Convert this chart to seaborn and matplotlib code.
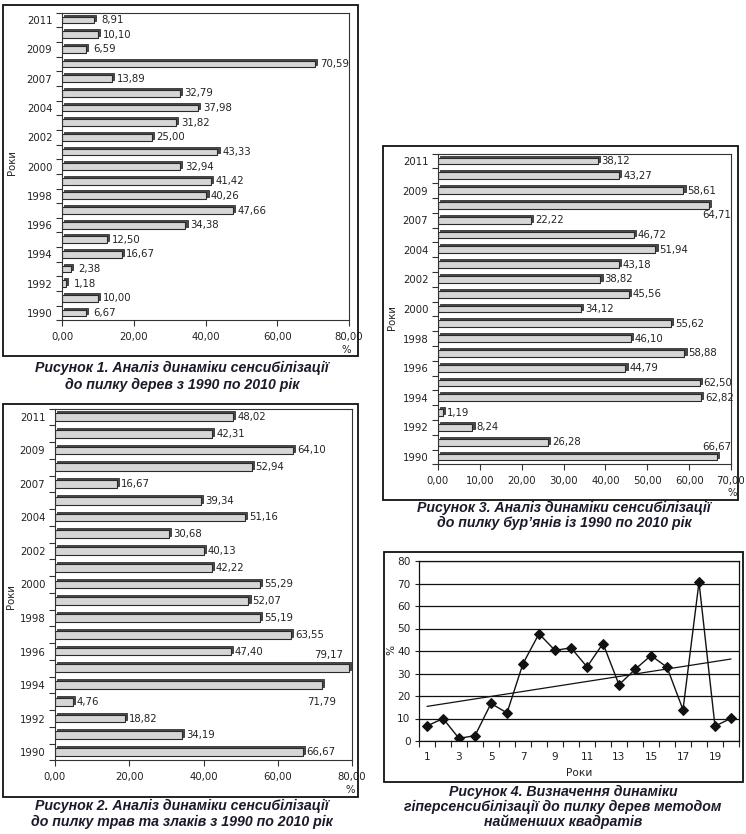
import numpy as np
import pandas as pd
import matplotlib
matplotlib.use("Agg")
import matplotlib.pyplot as plt
import seaborn as sns
from matplotlib.transforms import ScaledTranslation
from matplotlib.patches import Rectangle

# ---------------- data ----------------
years = ['2011', '2010', '2009', '2008', '2007', '2005', '2004', '2003', '2002', '2001', '2000',
         '1999', '1998', '1997', '1996', '1995', '1994', '1993', '1992', '1991', '1990']
year_labels = ['2011', '2009', '2007', '2004', '2002', '2000', '1998', '1996', '1994', '1992', '1990']

trees = [8.91, 10.10, 6.59, 70.59, 13.89, 32.79, 37.98, 31.82, 25.00, 43.33, 32.94,
         41.42, 40.26, 47.66, 34.38, 12.50, 16.67, 2.38, 1.18, 10.00, 6.67]
grasses = [48.02, 42.31, 64.10, 52.94, 16.67, 39.34, 51.16, 30.68, 40.13, 42.22, 55.29,
           52.07, 55.19, 63.55, 47.40, 79.17, 71.79, 4.76, 18.82, 34.19, 66.67]
weeds = [38.12, 43.27, 58.61, 64.71, 22.22, 46.72, 51.94, 43.18, 38.82, 45.56, 34.12,
         55.62, 46.10, 58.88, 44.79, 62.50, 62.82, 1.19, 8.24, 26.28, 66.67]

line_x = list(range(1, 21))
line_values = [6.67, 10.00, 1.18, 2.38, 16.67, 12.50, 34.38, 47.66, 40.26, 41.42,
               32.94, 43.33, 25.00, 31.82, 37.98, 32.79, 13.89, 70.59, 6.59, 10.10]
line_xticks = [1, 3, 5, 7, 9, 11, 13, 15, 17, 19]

captions = {
    1: ["Рисунок 1. Аналіз динаміки сенсибілізації", "до пилку дерев з 1990 по 2010 рік"],
    2: ["Рисунок 2. Аналіз динаміки сенсибілізації", "до пилку трав та злаків з 1990 по 2010 рік"],
    3: ["Рисунок 3. Аналіз динаміки сенсибілізації", "до пилку бур’янів із 1990 по 2010 рік"],
    4: ["Рисунок 4. Визначення динаміки", "гіперсенсибілізації до пилку дерев методом",
        "найменших квадратів"],
}

# ---------------- style ----------------
sns.set_style("white")
plt.rcParams['font.family'] = ['DejaVu Sans']
TXT = '#222222'
W, H = 746, 834
fig = plt.figure(figsize=(W / 100, H / 100), dpi=100)


def px_axes(x0, y0, x1, y1):
    return fig.add_axes([x0 / W, 1 - y1 / H, (x1 - x0) / W, (y1 - y0) / H])


def frame(x0, y0, x1, y1):
    fig.add_artist(Rectangle((x0 / W, 1 - y1 / H), (x1 - x0) / W, (y1 - y0) / H,
                             transform=fig.transFigure, fill=False, lw=1.3, ec='#111111'))


def caption(lines, cx, ys):
    for t, y in zip(lines, ys):
        fig.text(cx / W, 1 - y / H, t, ha='center', va='center', color='#1a1a2a',
                 fontsize=10.2, fontweight='bold', fontstyle='italic',
                 family=['Liberation Sans', 'DejaVu Sans'])


def fmt(v):
    return f"{v:.2f}".replace('.', ',')


def bar_panel(box, values, xmax, xstep, ylab_pos, pct_pos, overrides, centered=False):
    ax = px_axes(*box)
    df = pd.DataFrame({'year': years, 'val': values})
    # depth (3D side) drawn first, shifted up/right
    sns.barplot(data=df, x='val', y='year', orient='h', color='#4a4a4a', saturation=1,
                width=0.46, edgecolor='#333333', linewidth=0.6, ax=ax)
    off = ScaledTranslation(2.2 / 100, 2.0 / 100, fig.dpi_scale_trans)
    for p in list(ax.patches):
        p.set_transform(ax.transData + off)
    sns.barplot(data=df, x='val', y='year', orient='h', color='#d6d6d6', saturation=1,
                width=0.46, edgecolor='#2a2a2a', linewidth=0.8, ax=ax)
    ax.set_xlim(0, xmax)
    ax.set_ylim(len(years) - 0.5, -0.5)
    ax.set_xticks(np.arange(0, xmax + 0.01, xstep),
                  labels=[fmt(v) for v in np.arange(0, xmax + 0.01, xstep)])
    ax.set_yticks(range(0, len(years), 2), labels=year_labels)
    ax.set_yticks(np.arange(-0.5, len(years), 1), minor=True)
    ax.tick_params(axis='y', which='major', length=0, pad=7, labelsize=7.3, labelcolor=TXT)
    ax.tick_params(axis='y', which='minor', length=4, width=0.8, color='#333333', left=True)
    ax.tick_params(axis='x', which='major', length=4, width=0.8, color='#333333', bottom=True,
                   pad=4, labelsize=7.3, labelcolor=TXT)
    ax.set_xlabel('')
    ax.set_ylabel('')
    for s in ax.spines.values():
        s.set_color('#333333')
        s.set_linewidth(0.8)
    for i, v in enumerate(values):
        dx, dy, ha = overrides.get(i, (4, 0, 'left'))
        if centered and i not in overrides:
            dx, ha = 19, 'center'
        ax.annotate(fmt(v), xy=(v, i), xytext=(dx, dy), textcoords='offset pixels',
                    ha=ha, va='center', fontsize=7.3, color=TXT, annotation_clip=False)
    fig.text(ylab_pos[0] / W, 1 - ylab_pos[1] / H, 'Роки', rotation=90, ha='center',
             va='center', fontsize=7.3, color=TXT)
    fig.text(pct_pos[0] / W, 1 - pct_pos[1] / H, '%', ha='center', va='center',
             fontsize=7.3, color=TXT)
    return ax


# Panel 1
frame(3, 5, 358, 356)
bar_panel((62, 12.7, 349, 320.4), trees, 80, 20, (12, 163), (346, 350), {}, centered=True)
caption(captions[1], 182, [368, 385])

# Panel 2
frame(3, 404, 358, 797)
bar_panel((55, 408.6, 352, 760.4), grasses, 80, 20, (11, 597), (350, 790),
          {15: (-20, 13, 'center'), 16: (0, -17, 'center')})
caption(captions[2], 182, [806, 822])

# Panel 3
frame(383, 146, 738, 500)
bar_panel((438, 153.6, 731, 464.4), weeds, 70, 10, (392, 318), (732, 493),
          {3: (8, -10, 'center'), 20: (0, 10, 'center')})
caption(captions[3], 564, [508, 523])

# Panel 4
frame(384, 552, 743, 782)
ax4 = px_axes(419, 561, 739, 741)
df4 = pd.DataFrame({'x': line_x, 'y': line_values})
sns.regplot(data=df4, x='x', y='y', scatter=False, ci=None, ax=ax4,
            line_kws={'color': '#111111', 'lw': 0.9})
sns.lineplot(data=df4, x='x', y='y', color='#111111', lw=1.0, marker='D', markersize=5,
             markeredgecolor='#111111', ax=ax4)
ax4.set_xlim(0.5, 20.5)
ax4.set_ylim(0, 80)
ax4.set_yticks(range(0, 81, 10))
ax4.yaxis.grid(True, color='#111111', lw=0.9)
ax4.set_axisbelow(True)
ax4.set_xticks(line_xticks, labels=[str(v) for v in line_xticks])
ax4.set_xticks(np.arange(0.5, 20.6, 1), minor=True)
ax4.tick_params(axis='x', which='major', length=0, pad=8, labelsize=7.6, labelcolor=TXT)
ax4.tick_params(axis='x', which='minor', length=4, width=0.8, color='#222222', bottom=True)
ax4.tick_params(axis='y', which='major', length=3, width=0.8, color='#222222', left=True,
                pad=3, labelsize=7.6, labelcolor=TXT)
for s in ax4.spines.values():
    s.set_color('#111111')
    s.set_linewidth(0.9)
ax4.set_xlabel('')
ax4.set_ylabel('')
fig.text(579 / W, 1 - 773 / H, 'Роки', ha='center', va='center', fontsize=7.6, color=TXT)
fig.text(391 / W, 1 - 650 / H, '%', rotation=90, ha='center', va='center', fontsize=7.6,
         color=TXT)
caption(captions[4], 563, [792, 807, 822])

fig.savefig('out.png', dpi=100)
